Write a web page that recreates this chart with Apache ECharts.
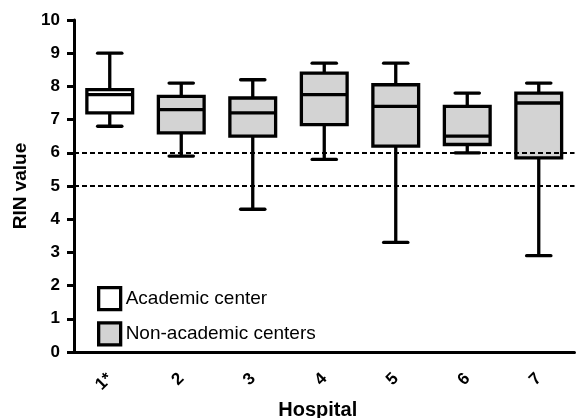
<!DOCTYPE html>
<html>
<head>
<meta charset="utf-8">
<script src="https://cdn.jsdelivr.net/npm/echarts@6/dist/echarts.min.js"></script>
<style>html,body{margin:0;padding:0;background:#fff;}#chart{width:576px;height:418px;}</style>
</head>
<body>
<div id="chart"></div>
<script>
// Hospitals (x categories)
const categories = ['1*', '2', '3', '4', '5', '6', '7'];
// Box statistics: [min, Q1, median, Q3, max]
const academicBoxes = [
  [6.8, 7.2, 7.75, 7.9, 9.0]        // 1*
];
const nonAcademicBoxes = [
  [5.9, 6.6, 7.3, 7.7, 8.1],        // 2
  [4.3, 6.5, 7.2, 7.65, 8.2],       // 3
  [5.8, 6.85, 7.75, 8.4, 8.7],      // 4
  [3.3, 6.2, 7.4, 8.05, 8.7],       // 5
  [6.0, 6.25, 6.5, 7.4, 7.8],       // 6
  [2.9, 5.85, 7.5, 7.8, 8.1]        // 7
];
const thresholdLines = [6, 5];
const seriesNames = ['Academic center', 'Non-academic centers'];
const yMin = 0, yMax = 10, yStep = 1;

const FONT = '"Liberation Sans", Arial, sans-serif';
const LW = 3.3;

const academicData = academicBoxes.map((b, i) => [i].concat(b));
const nonAcademicData = nonAcademicBoxes.map((b, i) => [i + academicBoxes.length].concat(b));

function renderBox(params, api) {
  const idx = api.value(0);
  const ys = [1, 2, 3, 4, 5].map(d => api.coord([idx, api.value(d)])[1]);
  const cx = api.coord([idx, 0])[0];
  const band = api.size([1, 0])[0];
  const bw = band * 0.64;
  const cw = band * 0.34;
  const ls = { stroke: '#000', lineWidth: LW, fill: null };
  return {
    type: 'group',
    children: [
      { type: 'line', shape: { x1: cx, y1: ys[0], x2: cx, y2: ys[1] }, style: ls },
      { type: 'line', shape: { x1: cx, y1: ys[3], x2: cx, y2: ys[4] }, style: ls },
      { type: 'line', shape: { x1: cx - cw / 2, y1: ys[0], x2: cx + cw / 2, y2: ys[0] }, style: Object.assign({ lineCap: 'round' }, ls) },
      { type: 'line', shape: { x1: cx - cw / 2, y1: ys[4], x2: cx + cw / 2, y2: ys[4] }, style: Object.assign({ lineCap: 'round' }, ls) },
      { type: 'rect', shape: { x: cx - bw / 2, y: ys[3], width: bw, height: ys[1] - ys[3] },
        style: { fill: api.visual('color'), stroke: '#000', lineWidth: LW } },
      { type: 'line', shape: { x1: cx - bw / 2, y1: ys[2], x2: cx + bw / 2, y2: ys[2] }, style: ls }
    ]
  };
}

const chart = echarts.init(document.getElementById('chart'), null, { renderer: 'canvas' });
chart.setOption({
  animation: false,
  backgroundColor: '#fff',
  textStyle: { fontFamily: FONT },
  grid: { left: 74, right: 1.5, top: 20, bottom: 66, containLabel: false, outerBoundsMode: 'none' },
  legend: {
    orient: 'vertical',
    left: 92, top: 281,
    itemWidth: 22, itemHeight: 22, itemGap: 10,
    selectedMode: false,
    textStyle: { fontSize: 19, color: '#000', fontFamily: FONT },
    data: [
      { name: seriesNames[0], icon: 'rect', itemStyle: { color: '#fff', borderColor: '#000', borderWidth: LW } },
      { name: seriesNames[1], icon: 'rect', itemStyle: { color: '#d3d3d3', borderColor: '#000', borderWidth: LW } }
    ]
  },
  xAxis: {
    type: 'category',
    data: categories,
    name: 'Hospital',
    nameLocation: 'middle',
    nameGap: 45,
    nameTextStyle: { fontSize: 20, fontWeight: 'bold', color: '#000', fontFamily: FONT, padding: [0, 13, 0, 0] },
    axisLine: { lineStyle: { color: '#000', width: 3 } },
    axisTick: { alignWithLabel: true, length: 7, lineStyle: { color: '#000', width: 3 } },
    axisLabel: { rotate: 45, margin: 24, fontSize: 17, fontWeight: 'bold', color: '#000', fontFamily: FONT },
    splitLine: { show: false }
  },
  yAxis: {
    type: 'value',
    min: yMin, max: yMax, interval: yStep,
    name: 'RIN value',
    nameLocation: 'middle',
    nameGap: 40,
    nameTextStyle: { fontSize: 19, fontWeight: 'bold', color: '#000', fontFamily: FONT },
    axisLine: { show: true, lineStyle: { color: '#000', width: 3 } },
    axisTick: { show: true, length: 7, lineStyle: { color: '#000', width: 3 } },
    axisLabel: { margin: 14, fontSize: 17, fontWeight: 'bold', color: '#000', fontFamily: FONT },
    splitLine: { show: false }
  },
  series: [
    {
      type: 'line', name: 'thresholds', data: [], z: 1, silent: true,
      markLine: {
        silent: true, symbol: 'none', label: { show: false },
        lineStyle: { color: '#000', width: 2, type: [5, 3] },
        data: thresholdLines.map(v => ({ yAxis: v }))
      }
    },
    {
      type: 'custom', name: seriesNames[0], z: 3,
      itemStyle: { color: '#fff' },
      renderItem: renderBox,
      encode: { x: 0, y: [1, 2, 3, 4, 5] },
      data: academicData
    },
    {
      type: 'custom', name: seriesNames[1], z: 3,
      itemStyle: { color: '#d3d3d3' },
      renderItem: renderBox,
      encode: { x: 0, y: [1, 2, 3, 4, 5] },
      data: nonAcademicData
    }
  ]
});
</script>
</body>
</html>
